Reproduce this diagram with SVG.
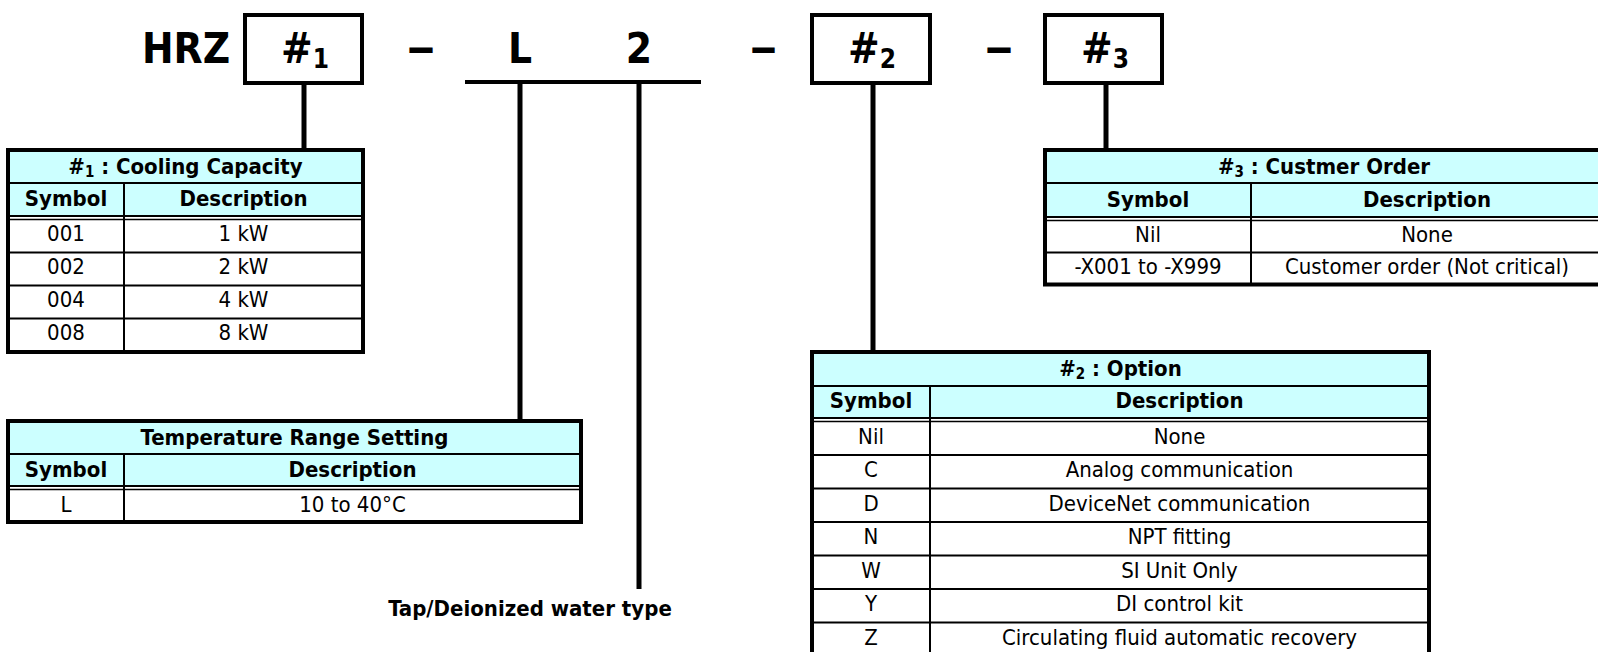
<svg xmlns="http://www.w3.org/2000/svg" width="1598" height="652" viewBox="0 0 1598 652">
<style>
text{font-family:"DejaVu Sans Condensed","DejaVu Sans",sans-serif;fill:#000}
.big{font-size:42px;font-weight:bold}
.sub{font-size:26px}
.dash{font-size:42px;font-weight:bold}
.b{font-size:22px;font-weight:bold;text-anchor:middle}
.r{font-size:22px;text-anchor:middle}
.box{fill:#fff;stroke:#000;stroke-width:4}
.hd{fill:#CCFFFF}
.bg{fill:#fff}
.frame{fill:none;stroke:#000;stroke-width:4}
.ln{stroke:#000;stroke-width:2}
.ln2{stroke:#000;stroke-width:1.5}
.conn{stroke:#000;stroke-width:5;fill:none}
</style>
<rect width="1598" height="652" fill="#fff"/>

<g id="connectors">
<line class="conn" x1="304" y1="83" x2="304" y2="150"/>
<line class="conn" x1="520" y1="82" x2="520" y2="421"/>
<line class="conn" x1="639" y1="82" x2="639" y2="589"/>
<line class="conn" x1="873" y1="83" x2="873" y2="352"/>
<line class="conn" x1="1106" y1="83" x2="1106" y2="150"/>
<line stroke="#000" stroke-width="4" x1="465" y1="82" x2="701" y2="82"/>
</g>

<g id="code">
<text class="big" x="142" y="63">HRZ</text>
<g id="box1"><rect class="box" x="245" y="15" width="117" height="68"/>
<text class="big" x="305" y="63" text-anchor="middle">#<tspan class="sub" dy="5">1</tspan></text></g>
<text class="dash" x="408" y="62" textLength="26" lengthAdjust="spacingAndGlyphs">—</text>
<text class="big" x="520" y="63" text-anchor="middle">L</text>
<text class="big" x="639" y="63" text-anchor="middle">2</text>
<text class="dash" x="751" y="62" textLength="25" lengthAdjust="spacingAndGlyphs">—</text>
<g id="box2"><rect class="box" x="812" y="15" width="118" height="68"/>
<text class="big" x="872" y="63" text-anchor="middle">#<tspan class="sub" dy="5">2</tspan></text></g>
<text class="dash" x="986" y="62" textLength="26" lengthAdjust="spacingAndGlyphs">—</text>
<g id="box3"><rect class="box" x="1045" y="15" width="117" height="68"/>
<text class="big" x="1105" y="63" text-anchor="middle">#<tspan class="sub" dy="5">3</tspan></text></g>
</g>

<g id="table-cooling">
<rect class="bg" x="8" y="150" width="355" height="202"/>
<rect class="hd" x="8" y="150" width="355" height="66"/>
<line class="ln" x1="8" y1="183" x2="363" y2="183"/>
<line class="ln" x1="8" y1="216" x2="363" y2="216"/>
<line class="ln2" x1="8" y1="219.5" x2="363" y2="219.5"/>
<line class="ln" x1="8" y1="252.5" x2="363" y2="252.5"/>
<line class="ln" x1="8" y1="285.5" x2="363" y2="285.5"/>
<line class="ln" x1="8" y1="318.5" x2="363" y2="318.5"/>
<line class="ln" x1="124" y1="183" x2="124" y2="352"/>
<rect class="frame" x="8" y="150" width="355" height="202"/>
<text class="b" x="185.5" y="174">#<tspan font-size="15" dy="3">1</tspan><tspan dy="-3"> : Cooling Capacity</tspan></text>
<text class="b" x="66" y="206">Symbol</text>
<text class="b" x="243.5" y="206">Description</text>
<text class="r" x="66" y="241">001</text><text class="r" x="243.5" y="241">1 kW</text>
<text class="r" x="66" y="274">002</text><text class="r" x="243.5" y="274">2 kW</text>
<text class="r" x="66" y="307">004</text><text class="r" x="243.5" y="307">4 kW</text>
<text class="r" x="66" y="340">008</text><text class="r" x="243.5" y="340">8 kW</text>
</g>

<g id="table-temperature">
<rect class="bg" x="8" y="421" width="573" height="101"/>
<rect class="hd" x="8" y="421" width="573" height="65"/>
<line class="ln" x1="8" y1="454" x2="581" y2="454"/>
<line class="ln" x1="8" y1="486" x2="581" y2="486"/>
<line class="ln2" x1="8" y1="489.5" x2="581" y2="489.5"/>
<line class="ln" x1="124" y1="454" x2="124" y2="522"/>
<rect class="frame" x="8" y="421" width="573" height="101"/>
<text class="b" x="294.5" y="445">Temperature Range Setting</text>
<text class="b" x="66" y="477">Symbol</text>
<text class="b" x="352.5" y="477">Description</text>
<text class="r" x="66" y="512">L</text><text class="r" x="352.5" y="512">10 to 40°C</text>
</g>

<g id="table-customer">
<rect class="bg" x="1045" y="150" width="558" height="134.5"/>
<rect class="hd" x="1045" y="150" width="558" height="67"/>
<line class="ln" x1="1045" y1="183" x2="1603" y2="183"/>
<line class="ln" x1="1045" y1="217" x2="1603" y2="217"/>
<line class="ln2" x1="1045" y1="220.5" x2="1603" y2="220.5"/>
<line class="ln" x1="1045" y1="252.5" x2="1603" y2="252.5"/>
<line class="ln" x1="1251" y1="183" x2="1251" y2="284.5"/>
<rect class="frame" x="1045" y="150" width="558" height="134.5"/>
<text class="b" x="1324" y="174">#<tspan font-size="15" dy="3">3</tspan><tspan dy="-3"> : Custmer Order</tspan></text>
<text class="b" x="1148" y="207">Symbol</text>
<text class="b" x="1427" y="207">Description</text>
<text class="r" x="1148" y="242">Nil</text><text class="r" x="1427" y="242">None</text>
<text class="r" x="1148" y="274">-X001 to -X999</text><text class="r" x="1427" y="274">Customer order (Not critical)</text>
</g>

<g id="table-option">
<rect class="bg" x="812" y="352" width="617" height="306"/>
<rect class="hd" x="812" y="352" width="617" height="66"/>
<line class="ln" x1="812" y1="386" x2="1429" y2="386"/>
<line class="ln" x1="812" y1="418" x2="1429" y2="418"/>
<line class="ln2" x1="812" y1="421.5" x2="1429" y2="421.5"/>
<line class="ln" x1="812" y1="455" x2="1429" y2="455"/>
<line class="ln" x1="812" y1="488.5" x2="1429" y2="488.5"/>
<line class="ln" x1="812" y1="522" x2="1429" y2="522"/>
<line class="ln" x1="812" y1="555.5" x2="1429" y2="555.5"/>
<line class="ln" x1="812" y1="589" x2="1429" y2="589"/>
<line class="ln" x1="812" y1="622.5" x2="1429" y2="622.5"/>
<line class="ln" x1="930" y1="386" x2="930" y2="658"/>
<rect class="frame" x="812" y="352" width="617" height="306"/>
<text class="b" x="1120.5" y="376">#<tspan font-size="15" dy="3">2</tspan><tspan dy="-3"> : Option</tspan></text>
<text class="b" x="871" y="408">Symbol</text>
<text class="b" x="1179.5" y="408">Description</text>
<text class="r" x="871" y="444">Nil</text><text class="r" x="1179.5" y="444">None</text>
<text class="r" x="871" y="477">C</text><text class="r" x="1179.5" y="477">Analog communication</text>
<text class="r" x="871" y="510.5">D</text><text class="r" x="1179.5" y="510.5">DeviceNet communication</text>
<text class="r" x="871" y="544">N</text><text class="r" x="1179.5" y="544">NPT fitting</text>
<text class="r" x="871" y="577.5">W</text><text class="r" x="1179.5" y="577.5">SI Unit Only</text>
<text class="r" x="871" y="611">Y</text><text class="r" x="1179.5" y="611">DI control kit</text>
<text class="r" x="871" y="644.5">Z</text><text class="r" x="1179.5" y="644.5">Circulating fluid automatic recovery</text>
</g>

<g id="label-tap">
<text class="b" x="530" y="616">Tap/Deionized water type</text>
</g>
</svg>
